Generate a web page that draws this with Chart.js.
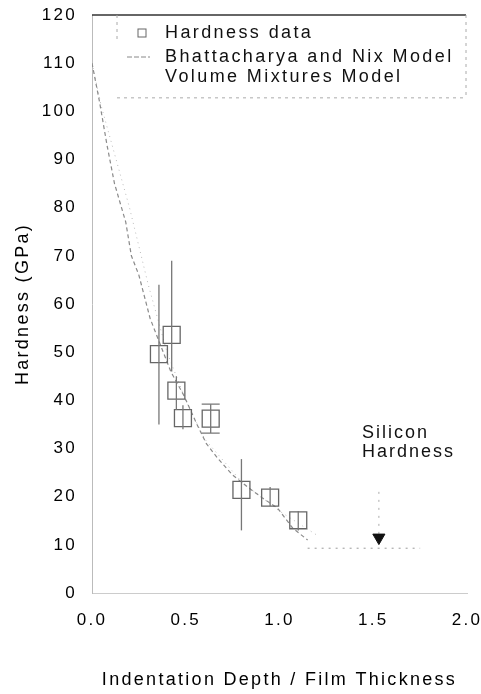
<!DOCTYPE html>
<html>
<head>
<meta charset="utf-8">
<script src="https://cdn.jsdelivr.net/npm/chart.js@4"></script>
<style>
  body { margin: 0; background: #fff; }
  #wrap { width: 481px; height: 694px; }
</style>
</head>
<body>
<div id="wrap"><canvas id="chart" width="481" height="694"></canvas></div>
<script>
// hardness data (GPa) vs indentation depth / film thickness
const depth = [0.357, 0.425, 0.45, 0.485, 0.633, 0.797, 0.95, 1.10];
const hardness = [49.6, 53.6, 42, 36.3, 36.2, 21.4, 19.8, 15.1];
const errLow = [35, 46, 38, 34, 33.2, 13, 18, 13];
const errHigh = [64, 69, 45, 39, 39.2, 27.8, 22, 17];

// Bhattacharya and Nix model
const bnX = [0, 0.04, 0.08, 0.12, 0.18, 0.21, 0.25, 0.28, 0.31, 0.36, 0.42, 0.49, 0.56, 0.61, 0.67, 0.75, 0.83, 0.91, 0.99, 1.07, 1.15];
const bnY = [110, 102, 93, 85, 77, 70, 66, 61.5, 57, 52, 46, 41, 35, 31, 28, 24.5, 22, 19.7, 17.6, 13.5, 11];

// Volume mixtures model
const vmX = [0, 0.05, 0.1, 0.2, 0.3, 0.4, 0.5, 0.6, 0.8, 1.0, 1.2];
const vmY = [110, 101, 94, 80, 64, 50, 40, 32, 23, 17, 12];

// silicon hardness level and arrow
const siX = [1.15, 1.75];
const siY = [9.3, 9.3];
const arrowX = [1.53, 1.53];
const arrowY = [21, 11.5];

const xTicks = [0, 0.5, 1.0, 1.5, 2.0];
const yTicks = [0, 10, 20, 30, 40, 50, 60, 70, 80, 90, 100, 110, 120];

const legendLabels = ['Hardness data', 'Bhattacharya and Nix Model', 'Volume Mixtures Model'];
const noteLines = ['Silicon', 'Hardness'];

const FONT = '"Liberation Sans", Arial, sans-serif';

const spacing = {
    id: 'spacing',
    beforeLayout(chart) { chart.ctx.letterSpacing = '2.3px'; },
    beforeDraw(chart) { chart.ctx.letterSpacing = '2.3px'; }
};

const errorBars = {
    id: 'errorBars',
    afterDatasetsDraw(chart) {
        const ctx = chart.ctx;
        const xs = chart.scales.x, ys = chart.scales.y;
        ctx.save();
        ctx.strokeStyle = '#777';
        ctx.lineWidth = 1.3;
        depth.forEach((d, i) => {
            const px = xs.getPixelForValue(d);
            const top = ys.getPixelForValue(errHigh[i]);
            const bot = ys.getPixelForValue(errLow[i]);
            ctx.beginPath();
            ctx.moveTo(px, top);
            ctx.lineTo(px, bot);
            ctx.stroke();
        });
        // the one capped bar
        const px = xs.getPixelForValue(depth[4]);
        ctx.beginPath();
        [errHigh[4], errLow[4]].forEach(v => {
            const py = ys.getPixelForValue(v);
            ctx.moveTo(px - 9, py);
            ctx.lineTo(px + 9, py);
        });
        ctx.stroke();
        ctx.restore();
    }
};

const legendBox = {
    id: 'legendBox',
    afterDraw(chart) {
        const ctx = chart.ctx;
        const a = chart.chartArea;
        const ys = chart.scales.y;
        const boxLeft = a.left + 25;
        const boxBottom = ys.getPixelForValue(102.8);
        ctx.save();
        // top frame line
        ctx.strokeStyle = '#333';
        ctx.lineWidth = 1.5;
        ctx.beginPath();
        ctx.moveTo(a.left, a.top);
        ctx.lineTo(a.right - 1, a.top);
        ctx.stroke();
        ctx.strokeStyle = '#aaa';
        ctx.lineWidth = 1;
        ctx.setLineDash([3, 4]);
        ctx.beginPath();
        ctx.moveTo(boxLeft, a.top);
        ctx.lineTo(boxLeft, a.top + 28);
        ctx.moveTo(boxLeft, boxBottom);
        ctx.lineTo(a.right - 1, boxBottom);
        ctx.moveTo(a.right - 1, a.top);
        ctx.lineTo(a.right - 1, boxBottom);
        ctx.stroke();

        // entries
        const rows = [a.top + 18, a.top + 42, a.top + 62];
        const textX = a.left + 73;
        ctx.setLineDash([]);
        ctx.strokeStyle = '#666';
        ctx.lineWidth = 1;
        ctx.strokeRect(a.left + 46, rows[0] - 4, 8, 8);
        ctx.strokeStyle = '#888';
        ctx.setLineDash([5, 2]);
        ctx.beginPath();
        ctx.moveTo(a.left + 35, rows[1]);
        ctx.lineTo(a.left + 58, rows[1]);
        ctx.stroke();
        ctx.setLineDash([]);
        ctx.fillStyle = '#111';
        ctx.font = '18px ' + FONT;
        ctx.letterSpacing = '2.4px';
        ctx.textBaseline = 'middle';
        legendLabels.forEach((t, i) => ctx.fillText(t, textX, rows[i]));

        // silicon note
        const xs = chart.scales.x;
        const nx = xs.getPixelForValue(1.44);
        ctx.letterSpacing = '2px';
        ctx.fillText(noteLines[0], nx, ys.getPixelForValue(33.2));
        ctx.fillText(noteLines[1], nx, ys.getPixelForValue(29.2));
        ctx.restore();
    }
};

new Chart(document.getElementById('chart'), {
    type: 'scatter',
    data: {
        datasets: [
            {
                label: legendLabels[0],
                data: depth.map((d, i) => ({ x: d, y: hardness[i] })),
                pointStyle: 'rect',
                pointRadius: 12,
                borderColor: '#666',
                backgroundColor: 'rgba(0,0,0,0)',
                borderWidth: 1.3
            },
            {
                label: legendLabels[1],
                data: bnX.map((d, i) => ({ x: d, y: bnY[i] })),
                showLine: true,
                borderColor: '#8a8a8a',
                borderWidth: 1.2,
                borderDash: [4, 3],
                pointRadius: 0
            },
            {
                label: legendLabels[2],
                data: vmX.map((d, i) => ({ x: d, y: vmY[i] })),
                showLine: true,
                borderColor: '#bbb',
                borderWidth: 1,
                borderDash: [1, 4],
                pointRadius: 0
            },
            {
                label: 'Silicon',
                data: siX.map((d, i) => ({ x: d, y: siY[i] })),
                showLine: true,
                borderColor: '#999',
                borderWidth: 1,
                borderDash: [2, 5],
                pointRadius: 0
            },
            {
                label: 'arrow',
                data: arrowX.map((d, i) => ({ x: d, y: arrowY[i] })),
                showLine: true,
                borderColor: '#aaa',
                borderWidth: 1,
                borderDash: [2, 6],
                pointStyle: 'triangle',
                rotation: 180,
                pointRadius: [0, 7],
                backgroundColor: '#111',
                pointBorderColor: '#111'
            }
        ]
    },
    options: {
        responsive: false,
        animation: false,
        layout: { padding: { top: 15, right: 14, left: 0, bottom: 0 } },
        plugins: { legend: { display: false }, tooltip: { enabled: false } },
        scales: {
            x: {
                type: 'linear',
                min: 0, max: 2,
                afterFit: s => { s.height = 101; s.paddingLeft = 0; s.paddingRight = 0; },
                afterBuildTicks: s => { s.ticks = xTicks.map(v => ({ value: v })); },
                grid: { display: false, drawTicks: false },
                border: { color: '#ccc', dash: [2, 8], width: 1 },
                ticks: {
                    padding: 17,
                    color: '#000',
                    font: { family: FONT, size: 17 },
                    maxRotation: 0,
                    callback: v => v.toFixed(1)
                },
                title: {
                    display: true,
                    text: 'Indentation Depth / Film Thickness',
                    color: '#000',
                    font: { family: FONT, size: 18 },
                    padding: { top: 0, bottom: 3 }
                }
            },
            y: {
                min: 0, max: 120,
                afterFit: s => { s.width = 92; s.paddingTop = 0; s.paddingBottom = 0; },
                afterBuildTicks: s => { s.ticks = yTicks.map(v => ({ value: v })); },
                grid: { display: false, drawTicks: false },
                border: { color: '#bbb', dash: [2, 5], width: 1 },
                ticks: {
                    padding: 15,
                    color: '#000',
                    font: { family: FONT, size: 17 }
                },
                title: {
                    display: true,
                    text: 'Hardness (GPa)',
                    color: '#000',
                    font: { family: FONT, size: 18 },
                    padding: { top: 12, bottom: 0 }
                }
            }
        }
    },
    plugins: [spacing, errorBars, legendBox]
});
</script>
</body>
</html>
